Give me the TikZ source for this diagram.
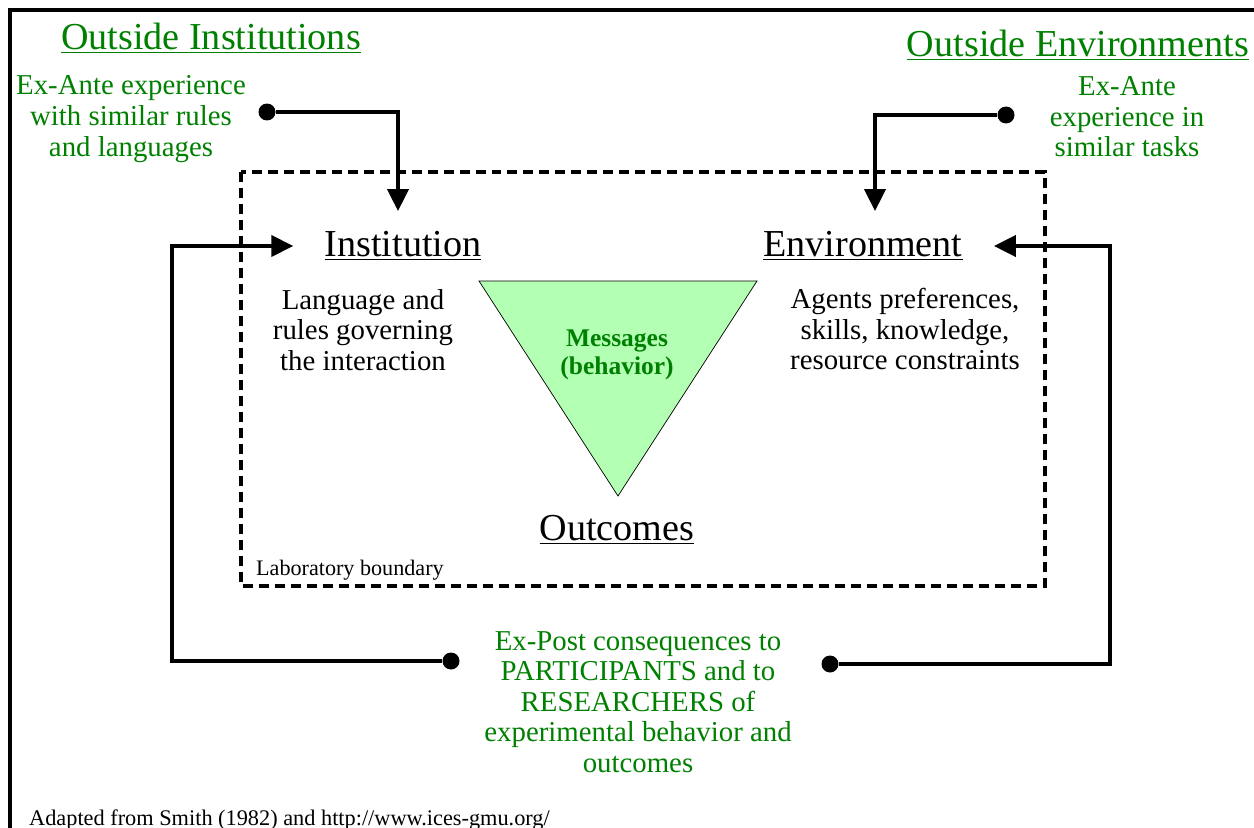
\documentclass[tikz,border=0pt]{standalone}
\usepackage{fontspec}
\setmainfont{Liberation Serif}
\usetikzlibrary{arrows.meta}
\definecolor{outgreen}{HTML}{008000}
\definecolor{msgfill}{HTML}{B3FFB3}

\begin{document}
\begin{tikzpicture}[
  x=0.02cm, y=-0.02cm,
  big/.style={font=\fontsize{21.7}{24}\selectfont, inner xsep=0.62cm, inner ysep=0.4cm},
  title/.style={font=\fontsize{21.7}{24}\selectfont, text=outgreen},
  body/.style={font=\fontsize{16.4}{17.4}\selectfont, align=center},
  outer/.style={body, text=outgreen},
  dot/.style={circle, fill=black, minimum size=0.34cm, inner sep=0pt},
  arr/.style={-{Triangle[length=0.44cm, width=0.42cm]}, line width=0.08cm},
  link/.style={line width=0.08cm}
]
  \useasboundingbox (0,0) rectangle (1254,828);
  % frame and laboratory boundary
  \draw[link] (1270,10) -- (10,10) -- (10,845);
  \draw[line width=0.07cm, dash pattern=on 0.2cm off 0.12cm] (241,172) rectangle (1045,586);
  \node[anchor=base west, font=\fontsize{12.6}{14}\selectfont] (lab) at (250,575) {Laboratory boundary};

  % messages triangle
  \draw[fill=msgfill, line width=0.4pt] (479,281) -- (757,281) -- (618,496) -- cycle;
  \node[font=\fontsize{14.5}{15.9}\selectfont\bfseries, text=outgreen, align=center] (msg) at (617,355) {Messages\\(behavior)};

  % inside the laboratory
  \node[big] (inst) at (403,246) {\underline{Institution}};
  \node[big] (env) at (863,246) {\underline{Environment}};
  \node[big] (outc) at (617,530) {\underline{Outcomes}};
  \node[body] (instDesc) at (363,330) {Language and\\rules governing\\the interaction};
  \node[body] (envDesc) at (905,329) {Agents preferences,\\skills, knowledge,\\resource constraints};

  % outside
  \node[title] (titleInst) at (211,38) {\underline{Outside Institutions}};
  \node[title] (titleEnv) at (1078,45) {\underline{Outside Environments}};
  \node[outer] (exInst) at (131,119) {Ex-Ante experience\\with similar rules\\and languages};
  \node[outer] (exEnv) at (1127,117) {Ex-Ante\\experience in\\similar tasks};
  \node[outer] (post) at (638,702) {Ex-Post consequences to\\PARTICIPANTS and to\\RESEARCHERS of\\experimental behavior and\\outcomes};

  \node[dot] (dotInst) at (267,112) {};
  \node[dot] (dotEnv) at (1006,115) {};
  \node[dot] (dotPostL) at (451,661) {};
  \node[dot] (dotPostR) at (830,664) {};
  \coordinate (loopL) at (172,400);
  \coordinate (loopR) at (1110,400);

  \draw[arr] (dotInst) -| ([xshift=-0.1cm]inst.north);
  \draw[arr] (dotEnv) -| ([xshift=0.24cm]env.north);
  \draw[arr] (dotPostL) -| (loopL) |- (inst.west);
  \draw[arr] (dotPostR) -| (loopR) |- (env.east);

  \node[anchor=base west, font=\fontsize{12.7}{14}\selectfont] (src) at (23,825) {Adapted from Smith (1982) and http://www.ices-gmu.org/};
\end{tikzpicture}
\end{document}
